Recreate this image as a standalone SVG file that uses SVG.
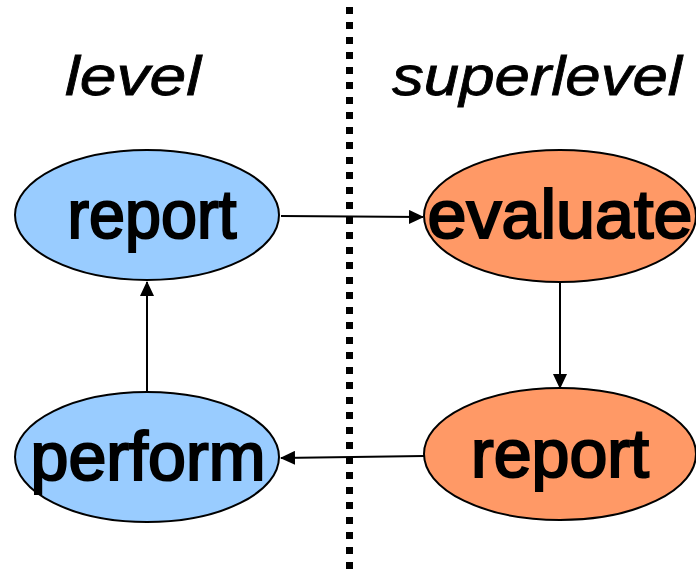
<svg xmlns="http://www.w3.org/2000/svg" width="696" height="573" viewBox="0 0 696 573">
<style>
.lvl{fill:#99ccff;stroke:#000;stroke-width:2}
.sup{fill:#ff9966;stroke:#000;stroke-width:2}
.lbl{font-family:"Liberation Sans",Arial,sans-serif;font-size:68px;fill:#000;stroke:#000;stroke-width:2.2}
.ttl{font-family:"Liberation Sans",Arial,sans-serif;font-size:56px;font-style:italic;fill:#000;stroke:#000;stroke-width:0.8}
.con{stroke:#000;stroke-width:2;fill:none;marker-end:url(#ah)}
</style>
<defs>
<marker id="ah" markerWidth="15" markerHeight="14" refX="14" refY="7" orient="auto" markerUnits="userSpaceOnUse">
<path d="M0,0 L15,7 L0,14 Z" fill="#000"/>
</marker>
</defs>
<rect width="696" height="573" fill="#fff"/>
<line x1="349.5" y1="7" x2="349.5" y2="573" stroke="#000" stroke-width="7" stroke-dasharray="7 8"/>
<text class="ttl" x="65" y="95" textLength="136" lengthAdjust="spacingAndGlyphs">level</text>
<text class="ttl" x="392" y="95" textLength="290" lengthAdjust="spacingAndGlyphs">superlevel</text>
<g id="connectors">
<line class="con" x1="281" y1="216" x2="423" y2="217"/>
<line class="con" x1="560" y1="283" x2="560" y2="388"/>
<line class="con" x1="424" y1="456" x2="281" y2="458"/>
<line class="con" x1="147" y1="392" x2="147" y2="282"/>
</g>
<g id="report-level">
<ellipse class="lvl" cx="147" cy="215" rx="132" ry="65"/>
<text class="lbl" x="152" y="238" text-anchor="middle" textLength="169" lengthAdjust="spacingAndGlyphs">report</text>
</g>
<g id="evaluate-superlevel">
<ellipse class="sup" cx="560" cy="216" rx="136" ry="66"/>
<text class="lbl" x="560" y="238" text-anchor="middle" textLength="265" lengthAdjust="spacingAndGlyphs">evaluate</text>
</g>
<g id="report-superlevel">
<ellipse class="sup" cx="560" cy="454" rx="136" ry="66"/>
<text class="lbl" x="560" y="477" text-anchor="middle" textLength="178" lengthAdjust="spacingAndGlyphs">report</text>
</g>
<g id="perform-level">
<ellipse class="lvl" cx="147" cy="457" rx="132" ry="65"/>
<text class="lbl" x="148" y="480" text-anchor="middle" textLength="235" lengthAdjust="spacingAndGlyphs">perform</text>
</g>
</svg>
